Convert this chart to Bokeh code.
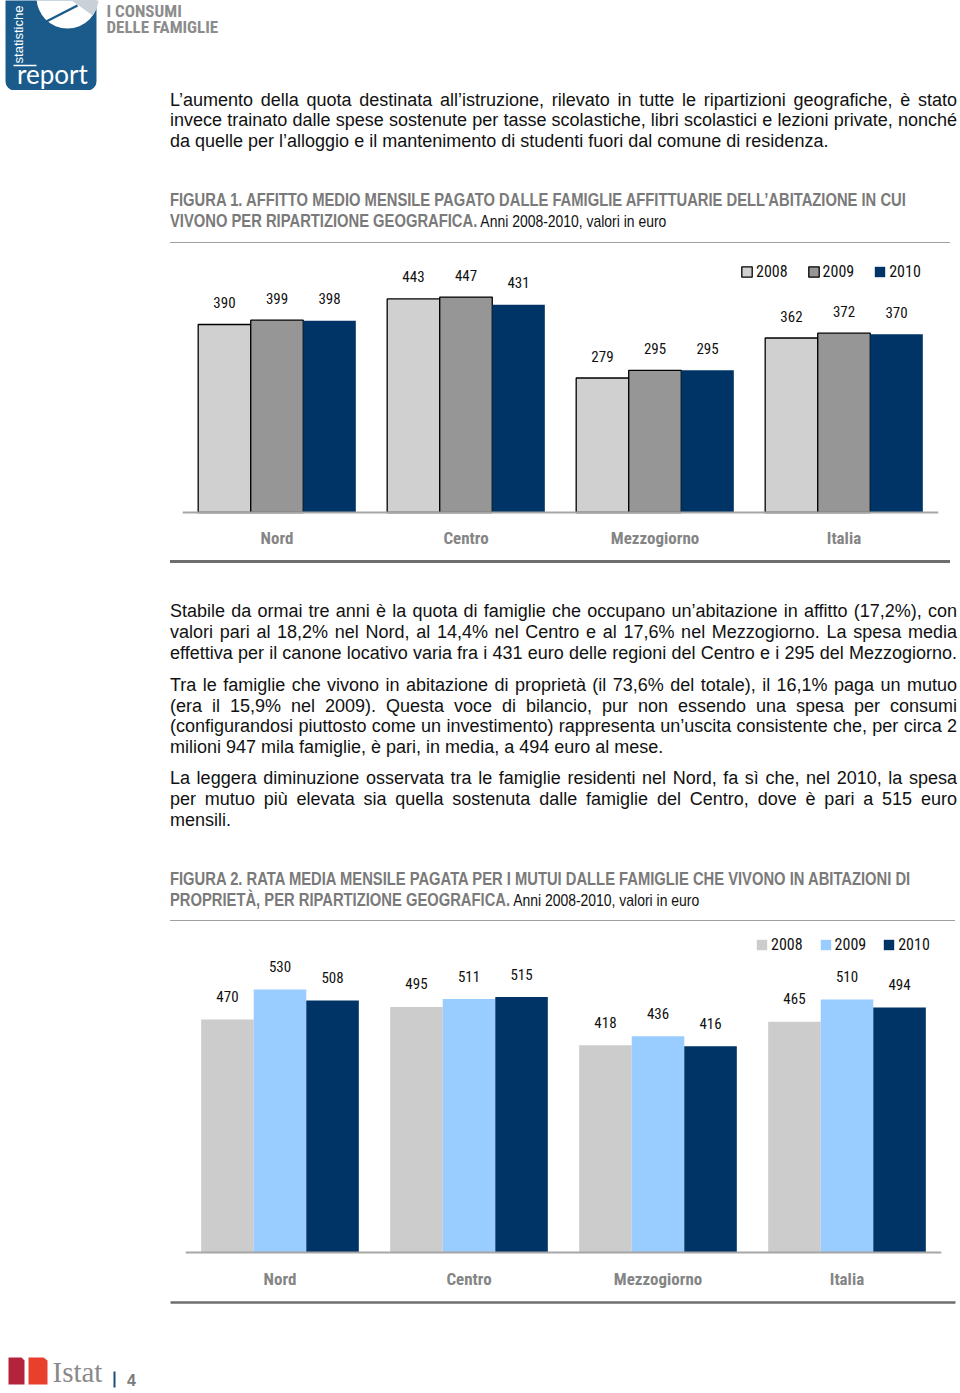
import math
from bokeh.plotting import figure
from bokeh.models import (ColumnDataSource, FactorRange, Range1d, Span, Legend,
                          LegendItem, Div, BoxAnnotation)
from bokeh.layouts import column
from bokeh.transform import dodge
from bokeh.core.properties import value
from bokeh.embed import file_html
from bokeh.resources import INLINE

# ---------------- data ----------------
regions = ["Nord", "Centro", "Mezzogiorno", "Italia"]
years = ["2008", "2009", "2010"]
affitto_2008 = [390, 443, 279, 362]
affitto_2009 = [399, 447, 295, 372]
affitto_2010 = [398, 431, 295, 370]
mutuo_2008 = [470, 495, 418, 465]
mutuo_2009 = [530, 511, 436, 510]
mutuo_2010 = [508, 515, 416, 494]

NARROW = "'Roboto Condensed', 'DejaVu Sans Condensed', sans-serif"
W = 960


def bare(p):
    p.outline_line_color = None
    p.background_fill_color = "white"
    p.border_fill_color = "white"
    if "frame_align" in p.properties():
        p.frame_align = False
    return p


def chart(vals, colors, outlines, ppu, height, top_px, bottom_px, min_left,
          legend_x, legend_c, label_off, cat_off, spacing):
    min_right = W - min_left - 756
    p = figure(width=W, height=height, x_range=FactorRange(*regions),
               y_range=Range1d(-bottom_px / ppu, top_px / ppu),
               x_axis_type=None, y_axis_type=None, toolbar_location=None,
               output_backend="svg", min_border_left=min_left,
               min_border_right=min_right, min_border_top=0,
               min_border_bottom=0, margin=0)
    bare(p)
    data = dict(region=regions)
    for i in range(3):
        data[f"v{i}"] = vals[i]
        data[f"t{i}"] = [str(v) for v in vals[i]]
    src = ColumnDataSource(data)
    bw = 0.278
    offs = [-bw, 0.0, bw]
    items = []
    for i, yr in enumerate(years):
        r = p.vbar(x=dodge("region", offs[i], range=p.x_range), top=f"v{i}",
                   bottom=0, width=bw, source=src, fill_color=colors[i],
                   line_color=outlines[i], line_width=1.3)
        p.text(x=dodge("region", offs[i], range=p.x_range), y=f"v{i}",
               text=f"t{i}", y_offset=-label_off, text_align="center",
               text_baseline="middle", text_font=value(NARROW),
               text_font_size="15px", text_color="#111111", source=src)
        items.append(LegendItem(label=yr, renderers=[r]))
    p.add_layout(Span(location=0, dimension="width", line_color="#a6a6a6",
                      line_width=2))
    p.text(x="region", y=0, text="region", y_offset=cat_off, source=src,
           text_align="center", text_baseline="middle",
           text_font=value(NARROW), text_font_size="17px",
           text_font_style="bold", text_color="#858585")
    leg = Legend(items=items, orientation="horizontal",
                 location=(legend_x, height - legend_c - 10),
                 glyph_width=13, glyph_height=13, label_standoff=3,
                 spacing=spacing, padding=0, margin=0, label_height=13,
                 border_line_color=None, background_fill_alpha=0,
                 label_text_font=NARROW, label_text_font_size="16px",
                 label_text_color="#111111")
    p.add_layout(leg)
    return p


fig1 = chart([affitto_2008, affitto_2009, affitto_2010],
             ["#d0d0d0", "#969696", "#003366"], ["#000000", "#000000", None],
             0.482, 302, 262, 40, 182, 558, 21, 22, 25, 19)
fig2 = chart([mutuo_2008, mutuo_2009, mutuo_2010],
             ["#cccccc", "#99ccff", "#003366"], [None, None, None],
             0.496, 365, 327, 38, 185, 570, 19, 23, 26, 16)

# ---------------- header ----------------
HH = 90
head = figure(width=W, height=HH, x_range=Range1d(0, W), y_range=Range1d(0, HH),
              x_axis_type=None, y_axis_type=None, toolbar_location=None,
              output_backend="svg", min_border=0, margin=0)
bare(head)
head.add_layout(BoxAnnotation(left=5, right=96, bottom=0, top=HH + 12,
                              fill_color="#1a5b8b", fill_alpha=1,
                              line_color=None, border_radius=9,
                              level="underlay"))
head.circle(x=67, y=93, radius=31, fill_color="white", line_color=None)
head.wedge(x=67, y=93, radius=31, start_angle=-0.62, end_angle=0.2,
           fill_color="#c9d0d8", line_color=None)
head.segment(x0=38, y0=65, x1=77, y1=85, line_color="#1a5b8b", line_width=2.5)
head.text(x=18, y=56, text=["statistiche"], angle=math.pi / 2,
          text_align="center", text_baseline="middle",
          text_font=value("Liberation Sans"), text_font_size="13px",
          text_color="white")
head.segment(x0=13, y0=25, x1=36, y1=25, line_color="white", line_width=1.5)
head.text(x=52, y=17, text=["report"], text_align="center",
          text_baseline="middle", text_font=value("Lato"),
          text_font_size="26px", text_color="white")
head.text(x=106, y=[80, 64], text=["I CONSUMI", "DELLE FAMIGLIE"],
          text_align="left", text_baseline="middle", text_font=value(NARROW),
          text_font_size="17px", text_font_style="bold", text_color="#8c8c8c")

# ---------------- text blocks ----------------
SANS = "font-family:'Liberation Sans',Arial,sans-serif;"
LEFT, TW = 170, 787
S = 0.82


def line(top, html, justify=False):
    ta = "text-align:justify;text-align-last:justify;" if justify else "text-align:left;"
    return (f'<div style="position:absolute;left:{LEFT}px;width:{TW}px;top:{top}px;'
            f'height:20px;line-height:20px;white-space:nowrap;{ta}{SANS}'
            f'font-size:18px;color:#111111;">{html}</div>')


def title_line(top, t_bold, t_rest=""):
    s = f'<span style="font-weight:bold;color:#7a7a7a;font-size:18px;">{t_bold}</span>'
    if t_rest:
        s += f'<span style="font-size:17px;color:#111111;"> {t_rest}</span>'
    return (f'<div style="position:absolute;left:{LEFT}px;width:{TW / S:.1f}px;top:{top}px;'
            f'height:20px;line-height:20px;white-space:nowrap;text-align:left;{SANS}'
            f'transform:scaleX({S});transform-origin:0 0;">{s}</div>')


def rule(top, thick, color, width):
    return (f'<div style="position:absolute;left:{LEFT}px;top:{top}px;width:{width}px;'
            f'height:0;border-top:{thick}px solid {color};"></div>')


def block(h, parts):
    return Div(text=f'<div style="position:relative;width:{W}px;height:{h}px;overflow:hidden;">'
               + "".join(parts) + "</div>", width=W, height=h, margin=0)


div1 = block(160, [
    line(0, "L’aumento della quota destinata all’istruzione, rilevato in tutte le ripartizioni geografiche, è stato", True),
    line(20, "invece trainato dalle spese sostenute per tasse scolastiche, libri scolastici e lezioni private, nonché", True),
    line(41, "da quelle per l’alloggio e il mantenimento di studenti fuori dal comune di residenza."),
    title_line(100, "FIGURA 1. AFFITTO MEDIO MENSILE PAGATO DALLE FAMIGLIE AFFITTUARIE DELL’ABITAZIONE IN CUI"),
    title_line(121, "VIVONO PER RIPARTIZIONE GEOGRAFICA.", "Anni 2008-2010, valori in euro"),
    rule(152, 1, "#a0a0a0", 780),
])

div2 = block(373, [
    rule(8, 3, "#6e6e6e", 780),
    line(49, "Stabile da ormai tre anni è la quota di famiglie che occupano un’abitazione in affitto (17,2%), con", True),
    line(70, "valori pari al 18,2% nel Nord, al 14,4% nel Centro e al 17,6% nel Mezzogiorno. La spesa media", True),
    line(91, "effettiva per il canone locativo varia fra i 431 euro delle regioni del Centro e i 295 del Mezzogiorno.", True),
    line(123, "Tra le famiglie che vivono in abitazione di proprietà (il 73,6% del totale), il 16,1% paga un mutuo", True),
    line(144, "(era il 15,9% nel 2009). Questa voce di bilancio, pur non essendo una spesa per consumi", True),
    line(164, "(configurandosi piuttosto come un investimento) rappresenta un’uscita consistente che, per circa 2", True),
    line(185, "milioni 947 mila famiglie, è pari, in media, a 494 euro al mese."),
    line(216, "La leggera diminuzione osservata tra le famiglie residenti nel Nord, fa sì che, nel 2010, la spesa", True),
    line(237, "per mutuo più elevata sia quella sostenuta dalle famiglie del Centro, dove è pari a 515 euro", True),
    line(258, "mensili."),
    title_line(317, "FIGURA 2. RATA MEDIA MENSILE PAGATA PER I MUTUI DALLE FAMIGLIE CHE VIVONO IN ABITAZIONI DI"),
    title_line(338, "PROPRIETÀ, PER RIPARTIZIONE GEOGRAFICA.", "Anni 2008-2010, valori in euro"),
    rule(368, 1, "#a0a0a0", 785),
])

# ---------------- footer ----------------
FH = 100
foot = figure(width=W, height=FH, x_range=Range1d(0, W), y_range=Range1d(0, FH),
              x_axis_type=None, y_axis_type=None, toolbar_location=None,
              output_backend="svg", min_border=0, margin=0)
bare(foot)
foot.segment(x0=170, y0=88, x1=955, y1=88, line_color="#6e6e6e", line_width=2.5)
foot.patches(xs=[[8, 8, 21, 24, 24], [28, 28, 43, 47, 47]],
             ys=[[6, 33, 33, 30, 6], [6, 33, 33, 30, 6]],
             fill_color=["#b3243c", "#e8402c"], line_color=None)
foot.text(x=52, y=19, text=["Istat"], text_align="left",
          text_baseline="middle", text_font=value("Liberation Serif"),
          text_font_size="29px", text_color="#8a8a8a")
foot.segment(x0=114, y0=3, x1=114, y1=19, line_color="#1f4e79", line_width=2)
foot.text(x=131, y=11, text=["4"], text_align="center", text_baseline="middle",
          text_font=value("Liberation Sans"), text_font_size="16px",
          text_font_style="bold", text_color="#7a7a7a")

page = column(head, div1, fig1, div2, fig2, foot, spacing=0, margin=0)
open("out.html", "w").write(file_html(page, INLINE))
